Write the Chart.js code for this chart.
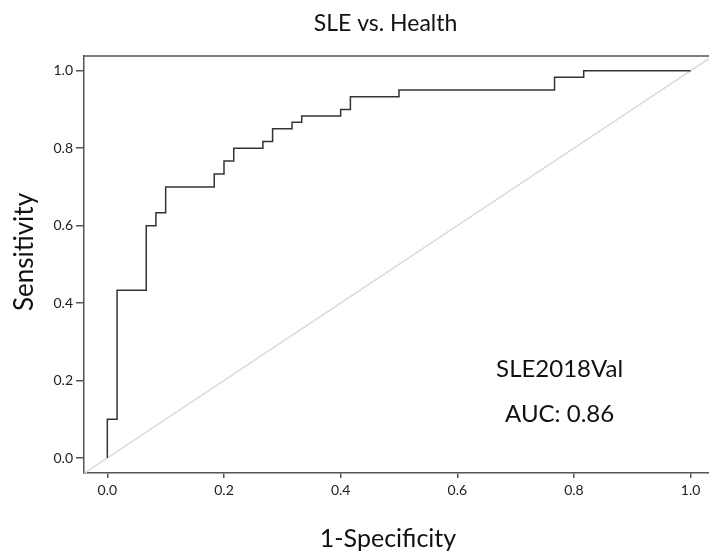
<!DOCTYPE html>
<html><head><meta charset="utf-8">
<script src="https://cdn.jsdelivr.net/npm/chart.js@4.4.1/dist/chart.umd.min.js"></script>
<style>html,body{margin:0;padding:0;background:#fff;}#wrap{width:709px;height:558px;}</style>
</head><body><div id="wrap"><canvas id="c" width="709" height="558"></canvas></div>
<script>
// ROC curve vertices (1-Specificity, Sensitivity), drawn as steps
const fpr = [0, 0.0167, 0.0667, 0.0833, 0.1, 0.1833, 0.2, 0.2167, 0.2667, 0.2833, 0.3167, 0.3333, 0.4, 0.4167, 0.5, 0.7667, 0.8167, 1.0];
const tpr = [0, 0.1, 0.433, 0.6, 0.633, 0.7, 0.733, 0.767, 0.8, 0.817, 0.85, 0.867, 0.883, 0.9, 0.933, 0.95, 0.983, 1.0];
// reference diagonal
const diagX = [-0.05, 1.05];
const diagY = [-0.05, 1.05];
const xTicks = [0, 0.2, 0.4, 0.6, 0.8, 1.0];
const yTicks = [0, 0.2, 0.4, 0.6, 0.8, 1.0];
const titleText = 'SLE vs. Health';
const xTitle = '1-Specificity';
const yTitle = 'Sensitivity';
const noteLines = ['SLE2018Val', 'AUC: 0.86'];

const FONT = 'Lato, "Open Sans", sans-serif';

const textPlugin = {
  id: 'texts',
  afterDraw(chart) {
    const {ctx, chartArea: a} = chart;
    ctx.save();
    // top frame line
    ctx.strokeStyle = '#555';
    ctx.lineWidth = 1.5;
    ctx.beginPath();
    ctx.moveTo(a.left, a.top);
    ctx.lineTo(a.right, a.top);
    ctx.stroke();
    ctx.fillStyle = '#111';
    ctx.textAlign = 'center';
    ctx.textBaseline = 'alphabetic';
    ctx.font = '23px ' + FONT;
    ctx.fillText(titleText, 385.5, 31);
    ctx.font = '25px ' + FONT;
    ctx.fillText(xTitle, 388, 546.5);
    ctx.save();
    ctx.translate(32.5, 252);
    ctx.rotate(-Math.PI / 2);
    ctx.font = '26px ' + FONT;
    ctx.fillText(yTitle, 0, 0);
    ctx.restore();
    ctx.font = '24px ' + FONT;
    ctx.fillText(noteLines[0], 559.6, 376.7);
    ctx.fillText(noteLines[1], 559.6, 421.7);
    ctx.restore();
  }
};

new Chart(document.getElementById('c'), {
  type: 'scatter',
  data: {
    datasets: [
      {
        data: fpr.map((x, i) => ({x, y: tpr[i]})),
        showLine: true,
        stepped: 'after',
        borderColor: '#333',
        borderWidth: 1.5,
        pointRadius: 0,
        fill: false
      },
      {
        data: diagX.map((x, i) => ({x, y: diagY[i]})),
        showLine: true,
        borderColor: '#dcdcdc',
        borderWidth: 1.5,
        pointRadius: 0,
        fill: false
      }
    ]
  },
  options: {
    responsive: false,
    animation: false,
    devicePixelRatio: 1,
    layout: {padding: {left: 0, top: 56, right: 0, bottom: 0}},
    plugins: {legend: {display: false}, tooltip: {enabled: false}, title: {display: false}},
    scales: {
      x: {
        type: 'linear',
        min: -0.04,
        max: 1.0315,
        afterBuildTicks: s => { s.ticks = xTicks.map(v => ({value: v})); },
        afterFit: s => { s.height = 85; },
        grid: {display: true, drawOnChartArea: false, drawTicks: true, tickLength: 5, color: '#555', lineWidth: 1.5},
        border: {display: true, color: '#555', width: 1.5},
        ticks: {padding: 4, color: '#222', font: {family: FONT, size: 14}, callback: v => v.toFixed(1), maxRotation: 0, autoSkip: false}
      },
      y: {
        type: 'linear',
        min: -0.0387,
        max: 1.038,
        afterBuildTicks: s => { s.ticks = yTicks.map(v => ({value: v})); },
        afterFit: s => { s.width = 84; },
        grid: {display: true, drawOnChartArea: false, drawTicks: true, tickLength: 8, color: '#555', lineWidth: 1.5},
        border: {display: true, color: '#555', width: 1.5},
        ticks: {padding: 3, color: '#222', font: {family: FONT, size: 14}, callback: v => v.toFixed(1), autoSkip: false}
      }
    }
  },
  plugins: [textPlugin]
});
</script>
</body></html>
